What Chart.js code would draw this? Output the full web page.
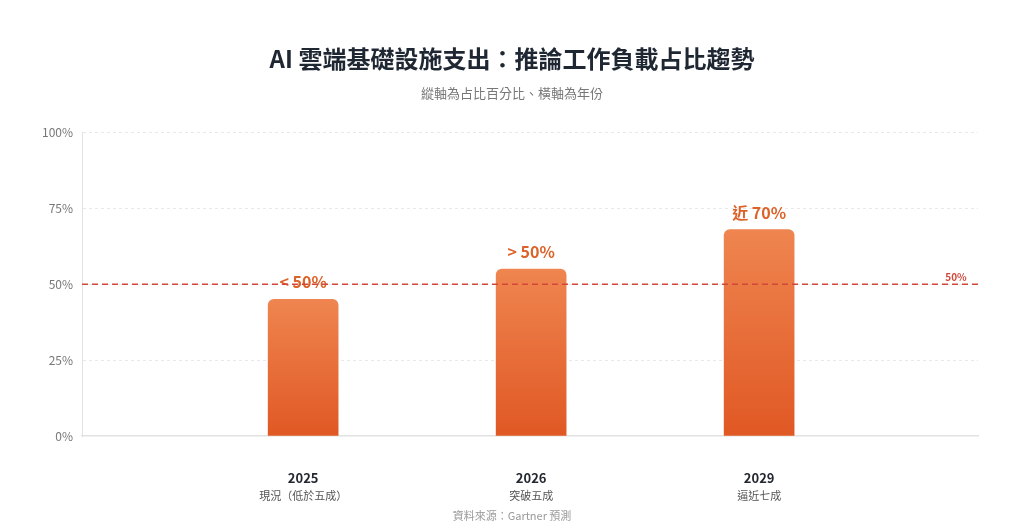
<!DOCTYPE html>
<html lang="zh-Hant">
<head>
<meta charset="utf-8">
<script src="https://cdn.jsdelivr.net/npm/chart.js@4"></script>
<style>
  html, body { margin: 0; padding: 0; background: #fff; }
  #wrap { width: 1024px; height: 531px; }
</style>
</head>
<body>
<div id="wrap"><canvas id="c" width="1024" height="531"></canvas></div>
<script>
  // data
  const years = ['2025', '2026', '2029'];
  const yearNotes = ['現況（低於五成）', '突破五成', '逼近七成'];
  const shares = [45, 55, 68];
  const barLabels = ['< 50%', '> 50%', '近 70%'];
  const yTicks = [0, 25, 50, 75, 100];
  const threshold = 50;

  const FONT = "'Noto Sans CJK TC', 'Noto Sans', sans-serif";

  function barGradient(c) {
    const chart = c.chart;
    const y = chart.scales.y;
    if (!y || !c.raw || !chart.chartArea) return '#e86a35';
    const top = y.getPixelForValue(c.raw.y);
    const bottom = y.getPixelForValue(0);
    const g = chart.ctx.createLinearGradient(0, top, 0, bottom);
    g.addColorStop(0, '#ef8550');
    g.addColorStop(1, '#e05824');
    return g;
  }

  const extras = {
    id: 'extras',
    afterDatasetsDraw(chart) {
      const ctx = chart.ctx;
      const area = chart.chartArea;
      const x = chart.scales.x, y = chart.scales.y;
      const meta = chart.getDatasetMeta(0);

      // labels above bars
      ctx.save();
      ctx.textAlign = 'center';
      ctx.textBaseline = 'middle';
      ctx.fillStyle = '#dc6228';
      ctx.font = 'bold 16px ' + FONT;
      meta.data.forEach((bar, i) => {
        ctx.fillText(barLabels[i], bar.x, bar.y - 17);
      });

      // threshold line
      const ty = y.getPixelForValue(threshold);
      ctx.strokeStyle = '#d2473a';
      ctx.lineWidth = 1.5;
      ctx.setLineDash([6, 4]);
      ctx.beginPath();
      ctx.moveTo(area.left, ty);
      ctx.lineTo(area.right, ty);
      ctx.stroke();
      ctx.setLineDash([]);
      ctx.fillStyle = '#d2473a';
      ctx.font = 'bold 10px ' + FONT;
      ctx.fillText(threshold + '%', area.right - 22, ty - 7);

      // x labels
      years.forEach((yr, i) => {
        const px = x.getPixelForValue(i);
        ctx.fillStyle = '#222831';
        ctx.font = 'bold 13px ' + FONT;
        ctx.fillText(yr, px, area.bottom + 42);
        ctx.fillStyle = '#555';
        ctx.font = '11px ' + FONT;
        ctx.fillText(yearNotes[i], px, area.bottom + 60);
      });

      // source
      ctx.fillStyle = '#999';
      ctx.font = '11px ' + FONT;
      ctx.fillText('資料來源：Gartner 預測', chart.width / 2, 516);
      ctx.restore();
    }
  };

  new Chart(document.getElementById('c'), {
    type: 'bar',
    data: {
      datasets: [{
        data: shares.map((v, i) => ({ x: i, y: v })),
        backgroundColor: barGradient,
        borderRadius: 6,
        borderSkipped: 'start',
        barThickness: 70
      }]
    },
    options: {
      responsive: false,
      animation: false,
      layout: { padding: 0 },
      plugins: {
        legend: { display: false },
        tooltip: { enabled: false },
        title: {
          display: true,
          text: 'AI 雲端基礎設施支出：推論工作負載占比趨勢',
          color: '#1f2733',
          font: { family: FONT, size: 24, weight: 'bold' },
          padding: { top: 44, bottom: 8 }
        },
        subtitle: {
          display: true,
          text: '縱軸為占比百分比、橫軸為年份',
          color: '#777',
          font: { family: FONT, size: 13 },
          padding: { top: 4, bottom: 32 }
        }
      },
      scales: {
        x: {
          type: 'linear',
          offset: false,
          min: -0.97,
          max: 2.96,
          grid: { display: false, offset: false },
          border: { display: true, color: '#e2e2e2', width: 1.5 },
          ticks: { display: false },
          afterFit(s) { s.height = 95; }
        },
        y: {
          min: 0,
          max: 100,
          afterBuildTicks(s) { s.ticks = yTicks.map(v => ({ value: v })); },
          grid: {
            color: (c) => c.tick && c.tick.value === 0 ? 'rgba(0,0,0,0)' : '#e9e9e9',
            tickLength: 0,
            drawTicks: false
          },
          border: { display: true, color: '#e3e3e3', dash: [3, 3], width: 1 },
          ticks: {
            color: '#777',
            padding: 9,
            font: { family: FONT, size: 12 },
            callback: (v) => v + '%'
          },
          afterFit(s) { s.width = 82; }
        },
        yRight: {
          position: 'right',
          min: 0,
          max: 100,
          grid: { display: false },
          border: { display: false },
          ticks: { display: false },
          afterFit(s) { s.width = 46; }
        }
      }
    },
    plugins: [extras]
  });
</script>
</body>
</html>
